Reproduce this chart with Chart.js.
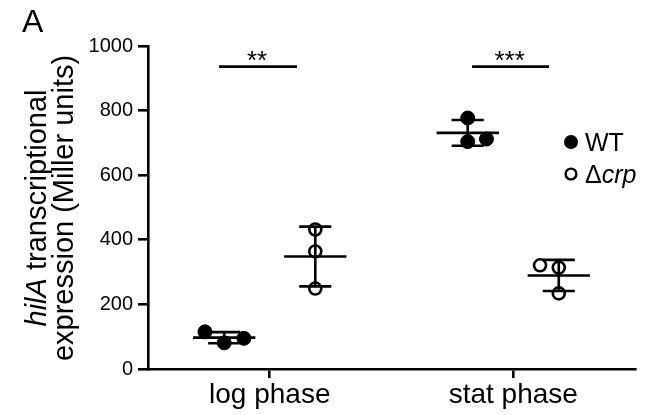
<!DOCTYPE html>
<html>
<head>
<meta charset="utf-8">
<script src="https://cdn.jsdelivr.net/npm/chart.js@4/dist/chart.umd.min.js"></script>
<style>
html,body{margin:0;padding:0;background:#fff;}
#wrap{width:645px;height:415px;position:relative;}
</style>
</head>
<body>
<div id="wrap"><canvas id="c"></canvas></div>
<script>
// ---- data ----
const categories = ["log phase", "stat phase"];
const yTicks = [0, 200, 400, 600, 800, 1000];
const wtLog = [115, 81, 95];
const wtStat = [777, 704, 712];
const crpLog = [432, 364, 249];
const crpStat = [321, 314, 234];
const seriesNames = ["WT", "crp"];
const significance = ["**", "***"];
const sigLevel = [936, 936];

// horizontal placement within each category (category units)
const groupOffset = 0.187;
const wtLogJitter = [-0.079, 0, 0.081];
const wtStatJitter = [0, 0, 0.077];
const crpLogJitter = [0, 0, 0];
const crpStatJitter = [-0.077, 0, 0];
const sigSpan = [[0.792, 1.112], [1.831, 2.147]];

const FONT = "'Liberation Sans', Arial, Helvetica, sans-serif";

function pts(vals, cat, side, jit) {
  return vals.map((v, i) => ({ x: cat + side * groupOffset + jit[i], y: v }));
}
function mean(a) { return a.reduce((s, v) => s + v, 0) / a.length; }
function sd(a) { const m = mean(a); return Math.sqrt(a.reduce((s, v) => s + (v - m) * (v - m), 0) / (a.length - 1)); }

const groups = [
  { vals: wtLog, x: 1 - groupOffset },
  { vals: crpLog, x: 1 + groupOffset },
  { vals: wtStat, x: 2 - groupOffset },
  { vals: crpStat, x: 2 + groupOffset }
];

const errorBarPlugin = {
  id: 'errbars',
  beforeDatasetsDraw(chart) {
    const ctx = chart.ctx, xs = chart.scales.x, ys = chart.scales.y;
    ctx.save();
    ctx.strokeStyle = '#000';
    ctx.lineWidth = 2.6;
    ctx.lineCap = 'butt';
    groups.forEach(g => {
      const m = mean(g.vals), s = sd(g.vals);
      const cx = xs.getPixelForValue(g.x);
      const meanHalf = xs.getPixelForValue(g.x + 0.128) - cx;
      const capHalf = xs.getPixelForValue(g.x + 0.066) - cx;
      const ym = ys.getPixelForValue(m), yt = ys.getPixelForValue(m + s), yb = ys.getPixelForValue(m - s);
      ctx.beginPath();
      ctx.moveTo(cx - meanHalf, ym); ctx.lineTo(cx + meanHalf, ym);
      ctx.moveTo(cx - capHalf, yt); ctx.lineTo(cx + capHalf, yt);
      ctx.moveTo(cx - capHalf, yb); ctx.lineTo(cx + capHalf, yb);
      ctx.moveTo(cx, yt); ctx.lineTo(cx, yb);
      ctx.stroke();
    });
    ctx.restore();
  }
};

const annotPlugin = {
  id: 'annot',
  afterDraw(chart) {
    const ctx = chart.ctx, xs = chart.scales.x, ys = chart.scales.y;
    ctx.save();
    ctx.fillStyle = '#000';
    ctx.strokeStyle = '#000';
    // significance bars
    sigSpan.forEach((sp, i) => {
      const x0 = xs.getPixelForValue(sp[0]), x1 = xs.getPixelForValue(sp[1]);
      const y = ys.getPixelForValue(sigLevel[i]);
      ctx.lineWidth = 2.6;
      ctx.beginPath(); ctx.moveTo(x0, y); ctx.lineTo(x1, y); ctx.stroke();
      ctx.font = '26px ' + FONT;
      ctx.textAlign = 'center';
      ctx.textBaseline = 'alphabetic';
      ctx.fillText(significance[i], (x0 + x1) / 2 - 1, y + 2);
    });
    // panel label
    ctx.font = '32px ' + FONT;
    ctx.textAlign = 'left';
    ctx.textBaseline = 'alphabetic';
    ctx.fillText('A', 22, 32);
    // y title (rotated, two lines)
    const cy = 208;
    const f1i = 'italic 29px ' + FONT, f1 = '29px ' + FONT;
    ctx.save();
    ctx.translate(46, cy);
    ctx.rotate(-Math.PI / 2);
    ctx.font = f1i; const wA = ctx.measureText('hilA').width;
    ctx.font = f1; const wB = ctx.measureText(' transcriptional').width;
    let sx = -(wA + wB) / 2;
    ctx.textAlign = 'left';
    ctx.font = f1i; ctx.fillText('hilA', sx, 0);
    ctx.font = f1; ctx.fillText(' transcriptional', sx + wA, 0);
    ctx.restore();
    ctx.save();
    ctx.translate(73, cy);
    ctx.rotate(-Math.PI / 2);
    ctx.font = f1; ctx.textAlign = 'center';
    ctx.fillText('expression (Miller units)', 0, 0);
    ctx.restore();
    // legend
    ctx.font = '25px ' + FONT;
    ctx.textAlign = 'left';
    ctx.beginPath(); ctx.arc(571, 142, 7, 0, Math.PI * 2); ctx.fill();
    ctx.fillText(seriesNames[0], 585, 151);
    ctx.lineWidth = 2.4;
    ctx.beginPath(); ctx.arc(571, 174, 5.4, 0, Math.PI * 2); ctx.stroke();
    ctx.fillText('\u0394', 585, 183);
    const wd = ctx.measureText('\u0394').width;
    ctx.font = 'italic 25px ' + FONT;
    ctx.fillText(seriesNames[1], 585 + wd, 183);
    ctx.restore();
  }
};

new Chart(document.getElementById('c'), {
  type: 'scatter',
  data: {
    datasets: [
      {
        label: 'WT',
        data: pts(wtLog, 1, -1, wtLogJitter).concat(pts(wtStat, 2, -1, wtStatJitter)),
        backgroundColor: '#000', borderColor: '#000', borderWidth: 1,
        pointRadius: 7, pointHoverRadius: 7
      },
      {
        label: 'crp',
        data: pts(crpLog, 1, 1, crpLogJitter).concat(pts(crpStat, 2, 1, crpStatJitter)),
        backgroundColor: 'rgba(0,0,0,0)', borderColor: '#000', borderWidth: 2.6,
        pointRadius: 6, pointHoverRadius: 6
      }
    ]
  },
  options: {
    responsive: true,
    maintainAspectRatio: false,
    animation: false,
    events: [],
    layout: { padding: { left: 0, right: 10, top: 46, bottom: 0 } },
    plugins: { legend: { display: false }, tooltip: { enabled: false } },
    scales: {
      x: {
        type: 'linear', min: 0.5, max: 2.5,
        afterBuildTicks(scale) { scale.ticks = categories.map((c, i) => ({ value: i + 1 })); },
        afterFit(scale) { scale.height = 46; },
        ticks: {
          callback(v) { return categories[Math.round(v) - 1]; },
          color: '#000', font: { family: FONT, size: 28 }, padding: 0, maxRotation: 0, autoSkip: false
        },
        grid: { display: true, drawOnChartArea: false, drawTicks: true, tickLength: 9, color: '#000', lineWidth: 2.6 },
        border: { display: true, color: '#000', width: 2.6 }
      },
      y: {
        type: 'linear', min: 0, max: 1000,
        afterBuildTicks(scale) { scale.ticks = yTicks.map(v => ({ value: v })); },
        afterFit(scale) { scale.width = 148; },
        ticks: { color: '#000', font: { family: FONT, size: 20 }, padding: 5, callback(v) { return String(v); } },
        grid: { display: true, drawOnChartArea: false, drawTicks: true, tickLength: 10, color: '#000', lineWidth: 2.6 },
        border: { display: true, color: '#000', width: 2.6 }
      }
    }
  },
  plugins: [errorBarPlugin, annotPlugin]
});
</script>
</body>
</html>
